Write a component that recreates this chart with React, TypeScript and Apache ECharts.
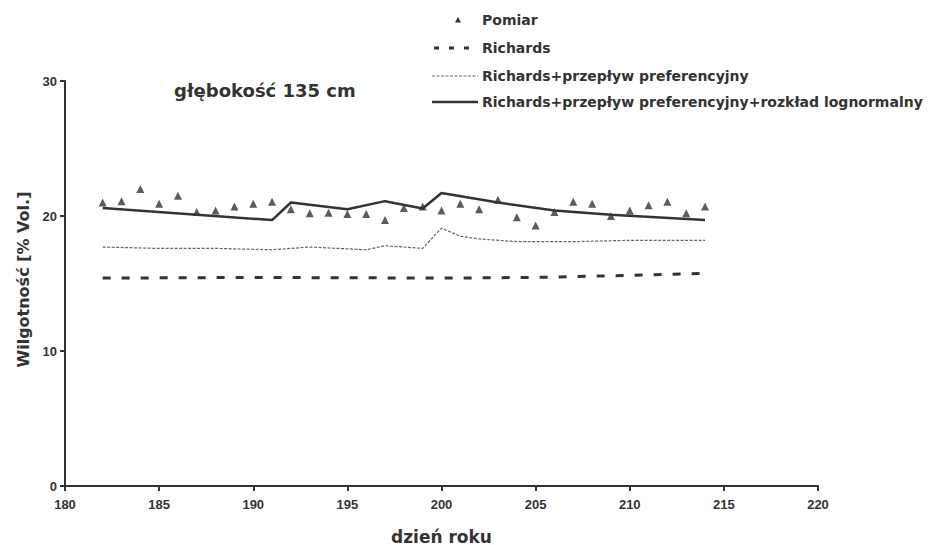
import React, { useEffect, useRef } from "react";
import * as echarts from "echarts";

const pomiarDays = [182, 183, 184, 185, 186, 187, 188, 189, 190, 191, 192, 193, 194, 195, 196, 197, 198, 199, 200, 201, 202, 203, 204, 205, 206, 207, 208, 209, 210, 211, 212, 213, 214];
const pomiarValues = [21.0, 21.1, 22.0, 20.9, 21.5, 20.3, 20.4, 20.7, 20.9, 21.05, 20.5, 20.2, 20.25, 20.15, 20.15, 19.7, 20.6, 20.7, 20.4, 20.9, 20.5, 21.2, 19.9, 19.3, 20.3, 21.05, 20.9, 20.0, 20.4, 20.8, 21.05, 20.2, 20.7];

const richardsDays = [182, 190, 200, 205, 210, 214];
const richardsValues = [15.4, 15.45, 15.4, 15.45, 15.6, 15.75];

const prefDays = [182, 185, 188, 191, 193, 196, 197, 199, 200, 201, 202, 204, 207, 210, 214];
const prefValues = [17.7, 17.6, 17.6, 17.5, 17.7, 17.5, 17.8, 17.6, 19.1, 18.5, 18.3, 18.1, 18.1, 18.2, 18.2];

const lognDays = [182, 191, 192, 195, 197, 199, 200, 203, 206, 209, 214];
const lognValues = [20.6, 19.7, 21.0, 20.5, 21.1, 20.55, 21.7, 21.0, 20.4, 20.1, 19.7];

const xTicks = [180, 220, 5];
const yTicks = [0, 30, 10];

const seriesNames = [
  "Pomiar",
  "Richards",
  "Richards+przepływ preferencyjny",
  "Richards+przepływ preferencyjny+rozkład lognormalny",
];
const chartTitle = "głębokość 135 cm";

const pairs = (xs: number[], ys: number[]) => xs.map((x, i) => [x, ys[i]]);

const FONT = "Liberation Sans, Arial, sans-serif";
const WIDE = "DejaVu Sans, Verdana, sans-serif";
const INK = "#333";
const DOT = "#666";

export default function App() {
  const ref = useRef<HTMLDivElement>(null);
  useEffect(() => {
    if (!ref.current) return;
    const chart = echarts.init(ref.current, undefined, { renderer: "svg" });

    const legendRows = [20, 48, 76, 102];
    const lx0 = 432;
    const lx1 = 478;
    const tx = 482;
    const legendText = (i: number) => ({
      type: "text",
      x: tx,
      y: legendRows[i],
      style: {
        text: seriesNames[i],
        font: `bold 14px ${WIDE}`,
        fill: INK,
        verticalAlign: "middle",
      },
    });

    chart.setOption({
      animation: false,
      backgroundColor: "#fff",
      textStyle: { fontFamily: FONT },
      grid: { left: 65, right: 110, top: 81, bottom: 59, outerBoundsMode: "none", containLabel: false },
      graphic: [
        {
          type: "text",
          x: 174,
          y: 90,
          style: {
            text: chartTitle,
            font: `bold 18px ${WIDE}`,
            fill: INK,
            verticalAlign: "middle",
          },
        },
        {
          type: "polygon",
          shape: { points: [[458, legendRows[0] - 3], [461, legendRows[0] + 2.5], [455, legendRows[0] + 2.5]] },
          style: { fill: INK },
        },
        {
          type: "line",
          shape: { x1: lx0 + 2, y1: legendRows[1], x2: lx1 - 6, y2: legendRows[1] },
          style: { stroke: INK, lineWidth: 3, lineDash: [5, 10] },
        },
        {
          type: "line",
          shape: { x1: lx0, y1: legendRows[2], x2: lx1, y2: legendRows[2] },
          style: { stroke: DOT, lineWidth: 1.2, lineDash: [3, 1.5] },
        },
        {
          type: "line",
          shape: { x1: lx0, y1: legendRows[3], x2: lx1, y2: legendRows[3] },
          style: { stroke: INK, lineWidth: 2.5 },
        },
        legendText(0),
        legendText(1),
        legendText(2),
        legendText(3),
      ],
      xAxis: {
        type: "value",
        min: xTicks[0],
        max: xTicks[1],
        interval: xTicks[2],
        name: "dzień roku",
        nameLocation: "middle",
        nameGap: 42,
        nameTextStyle: { fontFamily: WIDE, fontSize: 17, fontWeight: "bold", color: INK },
        axisLine: { lineStyle: { color: INK, width: 2 } },
        axisTick: { length: 5, lineStyle: { color: INK, width: 2 } },
        axisLabel: { fontFamily: FONT, fontSize: 13, fontWeight: "bold", color: INK, margin: 12 },
        splitLine: { show: false },
      },
      yAxis: {
        type: "value",
        min: yTicks[0],
        max: yTicks[1],
        interval: yTicks[2],
        name: "Wilgotność [% Vol.]",
        nameLocation: "middle",
        nameGap: 34,
        nameTextStyle: { fontFamily: WIDE, fontSize: 16, fontWeight: "bold", color: INK, padding: [0, 0, 0, 8] },
        axisLine: { show: true, lineStyle: { color: INK, width: 2 } },
        axisTick: { show: true, length: 5, lineStyle: { color: INK, width: 2 } },
        axisLabel: { fontFamily: FONT, fontSize: 13, fontWeight: "bold", color: INK, margin: 8 },
        splitLine: { show: false },
      },
      series: [
        {
          name: seriesNames[0],
          type: "scatter",
          symbol: "triangle",
          symbolSize: 8,
          itemStyle: { color: INK },
          data: pairs(pomiarDays, pomiarValues),
        },
        {
          name: seriesNames[1],
          type: "line",
          symbol: "none",
          lineStyle: { color: INK, width: 3, type: [8, 11] },
          data: pairs(richardsDays, richardsValues),
        },
        {
          name: seriesNames[2],
          type: "line",
          symbol: "none",
          lineStyle: { color: DOT, width: 1.2, type: [3, 1.5] },
          data: pairs(prefDays, prefValues),
        },
        {
          name: seriesNames[3],
          type: "line",
          symbol: "none",
          lineStyle: { color: INK, width: 2.5 },
          data: pairs(lognDays, lognValues),
        },
      ],
    });
    return () => chart.dispose();
  }, []);
  return <div ref={ref} style={{ width: 928, height: 545, position: "absolute", left: 0, top: 0 }} />;
}
